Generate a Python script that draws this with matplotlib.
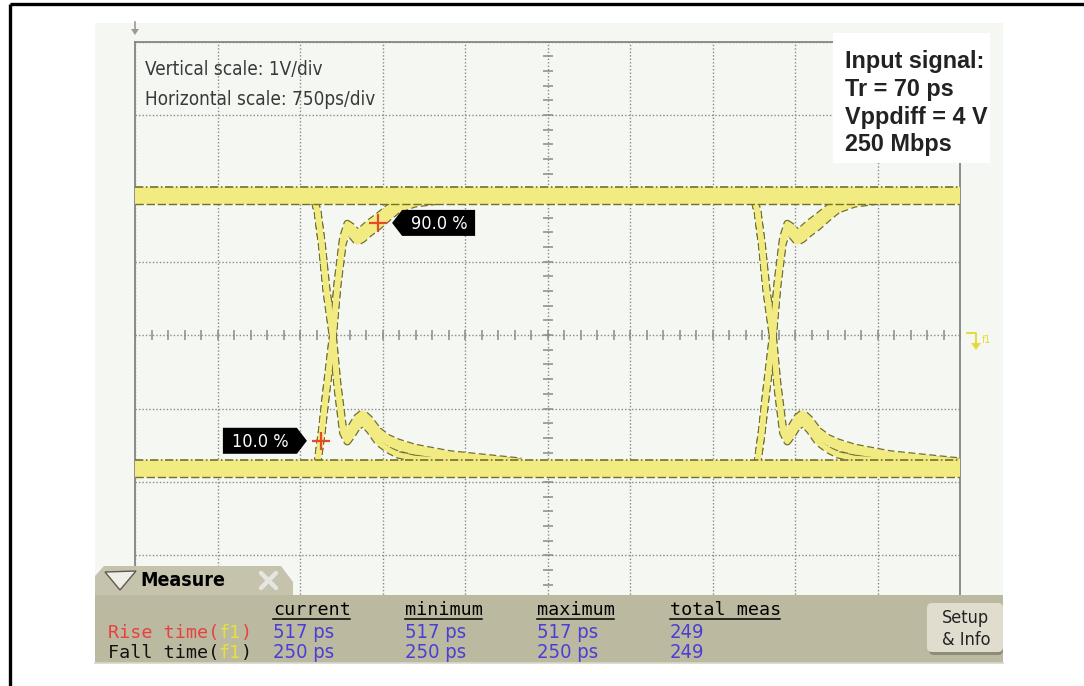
import numpy as np
import matplotlib
matplotlib.use("Agg")
import matplotlib.pyplot as plt
from matplotlib.patches import Rectangle, Polygon, FancyBboxPatch

# ---------------- data ----------------
TIME_PER_DIV_PS = 750
VOLT_PER_DIV = 1.0
N_XDIV, N_YDIV = 10, 8

EDGE_START_PS = [1660, 5660]          # start of each bit transition
T_EDGE_PS = [-200, -30, 0, 40, 80, 140, 180, 230, 270, 310, 360, 410, 470,
             550, 640, 730, 880, 1200, 1850]   # time relative to edge start

# rising-edge traces (persistence: three overlaid acquisitions), volts
RISE_A = [-1.78, -1.78, -1.73, -1.29, -0.75, 0.00, 0.68, 1.29, 1.47, 1.42,
          1.33, 1.38, 1.46, 1.55, 1.67, 1.77, 1.84, 1.87, 1.89]
RISE_B = [-1.78, -1.78, -1.73, -1.28, -0.73, 0.03, 0.72, 1.33, 1.52, 1.48,
          1.40, 1.45, 1.53, 1.62, 1.73, 1.81, 1.86, 1.88, 1.89]
RISE_C = [-1.78, -1.78, -1.74, -1.30, -0.77, -0.03, 0.65, 1.25, 1.41, 1.36,
          1.27, 1.31, 1.39, 1.48, 1.60, 1.71, 1.79, 1.85, 1.88]
# falling-edge traces, volts
FALL_A = [1.87, 1.85, 1.68, 1.22, 0.62, -0.03, -0.68, -1.29, -1.39, -1.30,
          -1.18, -1.13, -1.22, -1.38, -1.47, -1.53, -1.59, -1.66, -1.73]
FALL_B = [1.87, 1.85, 1.69, 1.24, 0.65, 0.00, -0.64, -1.24, -1.33, -1.24,
          -1.12, -1.06, -1.14, -1.30, -1.40, -1.46, -1.53, -1.62, -1.72]
FALL_C = [1.87, 1.85, 1.67, 1.20, 0.59, -0.06, -0.72, -1.33, -1.45, -1.37,
          -1.25, -1.20, -1.29, -1.46, -1.56, -1.63, -1.68, -1.71, -1.74]

HIGH_BAND_V = [1.79, 2.02]
LOW_BAND_V = [-1.93, -1.70]

MARKER_LABELS = ["10.0 %", "90.0 %"]
MARKER_T_PS = [1690, 2210]
MARKER_V = [-1.44, 1.53]

SCALE_TEXT = ["Vertical scale: 1V/div", "Horizontal scale: 750ps/div"]
INPUT_TEXT = ["Input signal:", "Tr = 70 ps", "Vppdiff = 4 V", "250 Mbps"]

MEAS_HEADERS = ["current", "minimum", "maximum", "total meas"]
MEAS_ROWS = ["Rise time", "Fall time"]
MEAS_VALUES = [["517 ps", "517 ps", "517 ps", "249"],
               ["250 ps", "250 ps", "250 ps", "249"]]

# ---------------- style ----------------
W, H = 1084, 686
SCREEN = "#f4f7f2"
YEL = "#f1eb82"
DARK = "#74702c"
GRID = "#8a8a8a"
PANEL = "#bcb9a1"
TAB = "#c6c3ad"

fig = plt.figure(figsize=(W / 100, H / 100), dpi=100)
fig.patch.set_facecolor("white")


def px_axes(z):
    a = fig.add_axes([0, 0, 1, 1], zorder=z)
    a.set_xlim(0, W)
    a.set_ylim(H, 0)
    a.axis("off")
    a.patch.set_alpha(0)
    return a


bg = px_axes(-5)
bg.add_patch(Rectangle((95, 23), 908, 640, fc=SCREEN, ec="none"))
# outer frame (left + top)
bg.plot([10, 10], [4, H], color="black", lw=2.4, solid_capstyle="butt")
bg.plot([10, W], [4, 4], color="black", lw=2.4, solid_capstyle="butt")

# ---------------- scope graticule ----------------
x0, x1, y0, y1 = 135, 960, 41.7, 628.6
ax = fig.add_axes([x0 / W, 1 - y1 / H, (x1 - x0) / W, (y1 - y0) / H], zorder=1)
ax.set_facecolor(SCREEN)
xmax = N_XDIV * TIME_PER_DIV_PS
ymax = N_YDIV / 2 * VOLT_PER_DIV
ax.set_xlim(0, xmax)
ax.set_ylim(-ymax, ymax)
ax.set_xticks(np.arange(0, xmax + 1, TIME_PER_DIV_PS))
ax.set_yticks(np.arange(-ymax, ymax + 0.1, VOLT_PER_DIV))
ax.tick_params(length=0, labelbottom=False, labelleft=False)
ax.grid(True, color=GRID, lw=1.0, ls=(0, (1, 1.5)))
ax.set_axisbelow(True)
for s in ax.spines.values():
    s.set_color("#858585")
    s.set_linewidth(1.3)

# center cross minor ticks
ax.plot(np.arange(0, xmax + 1, TIME_PER_DIV_PS / 5), np.zeros(N_XDIV * 5 + 1),
        ls="", marker="|", ms=7, mew=1.1, color=GRID, zorder=1)
ax.plot(np.full(N_YDIV * 5 + 1, xmax / 2), np.arange(-ymax, ymax + 0.01, VOLT_PER_DIV / 5),
        ls="", marker="_", ms=7, mew=1.1, color=GRID, zorder=1)

# ---------------- waveform (eye persistence) ----------------
traces = [RISE_A, RISE_B, RISE_C, FALL_A, FALL_B, FALL_C]
for e in EDGE_START_PS:
    t = np.array(T_EDGE_PS) + e
    for v in traces:
        ax.plot(t, v, color=DARK, lw=5.6, ls=(0, (0.9, 0.45)),
                solid_capstyle="butt", zorder=2)
for e in EDGE_START_PS:
    t = np.array(T_EDGE_PS) + e
    for v in traces:
        ax.plot(t, v, color=YEL, lw=3.8, zorder=3, solid_capstyle="round")

for lo, hi in (HIGH_BAND_V, LOW_BAND_V):
    ax.axhspan(lo, hi, fc=YEL, ec="none", zorder=3.5)
    ax.axhline(hi, color=DARK, lw=1.2, ls=(0, (5, 1.5, 1, 1.5)), zorder=4)
    ax.axhline(lo, color=DARK, lw=1.0, ls=(0, (6, 2)), zorder=4)

# measurement cursors
ax.plot(MARKER_T_PS, MARKER_V, ls="", marker="+", ms=13, mew=1.6,
        color="#e8482a", zorder=6)

# ---------------- overlay (pixel coordinates) ----------------
ov = px_axes(10)


def to_px(t, v):
    d = ax.transData.transform((t, v))
    return ov.transData.inverted().transform(d)


for lab, t, v in zip(MARKER_LABELS, MARKER_T_PS, MARKER_V):
    mx, my = to_px(t, v)
    if v > 0:   # label to the right, pointing left
        tip = mx + 14
        pts = [(tip, my), (tip + 10, my - 13), (tip + 83, my - 13),
               (tip + 83, my + 13), (tip + 10, my + 13)]
        cx = tip + 47
    else:       # label to the left, pointing right
        tip = mx - 14
        pts = [(tip, my), (tip - 10, my - 13), (tip - 84, my - 13),
               (tip - 84, my + 13), (tip - 10, my + 13)]
        cx = tip - 47
    ov.add_patch(Polygon(pts, closed=True, fc="black", ec="none"))
    ov.text(cx, my + 1, lab, color="white", fontsize=13, ha="center",
            va="center", family="DejaVu Sans", stretch="condensed")

# scale annotations
for s, yb in zip(SCALE_TEXT, [75, 105]):
    ov.text(145, yb, s, fontsize=13.6, color="#3a3a3a", va="baseline",
            family="DejaVu Sans", stretch="condensed")

# top-left ground marker
ov.plot([135, 135], [22, 30], color="#9a9a9a", lw=1.2)
ov.add_patch(Polygon([(131, 29), (139, 29), (135, 35)], fc="#9a9a9a", ec="none"))

# trigger / reference marker on the right
ov.plot([967, 976, 976], [333, 333, 344], color="#e2dc3c", lw=1.4)
ov.add_patch(Polygon([(971, 343), (981, 343), (976, 350)], fc="#e2dc3c", ec="none"))
ov.text(982, 340, "f1", fontsize=7, color="#e2dc3c", va="center",
        family="DejaVu Sans")

# input-signal box
ov.add_patch(Rectangle((833, 33), 157, 130, fc="white", ec="none"))
for s, yb in zip(INPUT_TEXT, [68, 96, 124, 151]):
    ov.text(845, yb, s, fontsize=16.8, fontweight="bold", color="#222222",
            va="baseline", family=["Liberation Sans", "DejaVu Sans"])

# ---------------- measure panel ----------------
ov.add_patch(Polygon([(95, 597), (95, 576), (104, 566), (281, 566),
                      (293, 582), (293, 597)], fc=TAB, ec="none"))
ov.add_patch(Rectangle((95, 595), 908, 68, fc=PANEL, ec="none"))
ov.plot([95, 1003], [663, 663], color="#d8d6cb", lw=1.2)
ov.add_patch(Polygon([(105, 572), (136, 571), (120, 590)], fc="#efefe8",
                     ec="#5a5a50", lw=1.0))
ov.text(140, 586, "Measure", fontsize=14, fontweight="bold", color="black",
        va="baseline", family="DejaVu Sans", stretch="condensed")
ov.plot([261, 276], [573, 588], color="#e6e6e0", lw=3.2, solid_capstyle="round")
ov.plot([261, 276], [588, 573], color="#e6e6e0", lw=3.2, solid_capstyle="round")

MONO = "DejaVu Sans Mono"
FS = 13.2
CW = 0.602 * FS * 100 / 72
col_x = [273, 405, 537, 670]
for hx, htxt in zip(col_x, MEAS_HEADERS):
    ov.text(hx, 615, htxt, fontsize=FS, family=MONO, color="black", va="baseline")
    ov.plot([hx, hx + len(htxt) * CW], [618.5, 618.5], color="black", lw=1.1)

row_y = [638, 658]
row_col = ["#e8403e", "#111111"]
for r, (name, yb, c) in enumerate(zip(MEAS_ROWS, row_y, row_col)):
    pre = name + "("
    ov.text(108, yb, pre, fontsize=FS, family=MONO, color=c, va="baseline")
    ov.text(108 + len(pre) * CW, yb, "f1", fontsize=FS, family=MONO,
            color="#e6e23c", va="baseline")
    ov.text(108 + (len(pre) + 2) * CW, yb, ")", fontsize=FS, family=MONO,
            color=c, va="baseline")
    for hx, val in zip(col_x, MEAS_VALUES[r]):
        ov.text(hx, yb, val, fontsize=14.5, family=["DejaVu Sans"],
                stretch="condensed", color="#4a3ed6", va="baseline")

# setup & info button
ov.add_patch(FancyBboxPatch((929, 605), 74, 50, boxstyle="round,pad=0,rounding_size=5",
                            fc="#8e8b78", ec="none"))
ov.add_patch(FancyBboxPatch((927, 603), 76, 49, boxstyle="round,pad=0,rounding_size=5",
                            fc="#e0ddcf", ec="none"))
ov.text(942, 623, "Setup", fontsize=13, color="#222222", va="baseline",
        family="DejaVu Sans", stretch="condensed")
ov.text(942, 645, "& Info", fontsize=13, color="#222222", va="baseline",
        family="DejaVu Sans", stretch="condensed")

fig.savefig("out.png", dpi=100, facecolor="white")
